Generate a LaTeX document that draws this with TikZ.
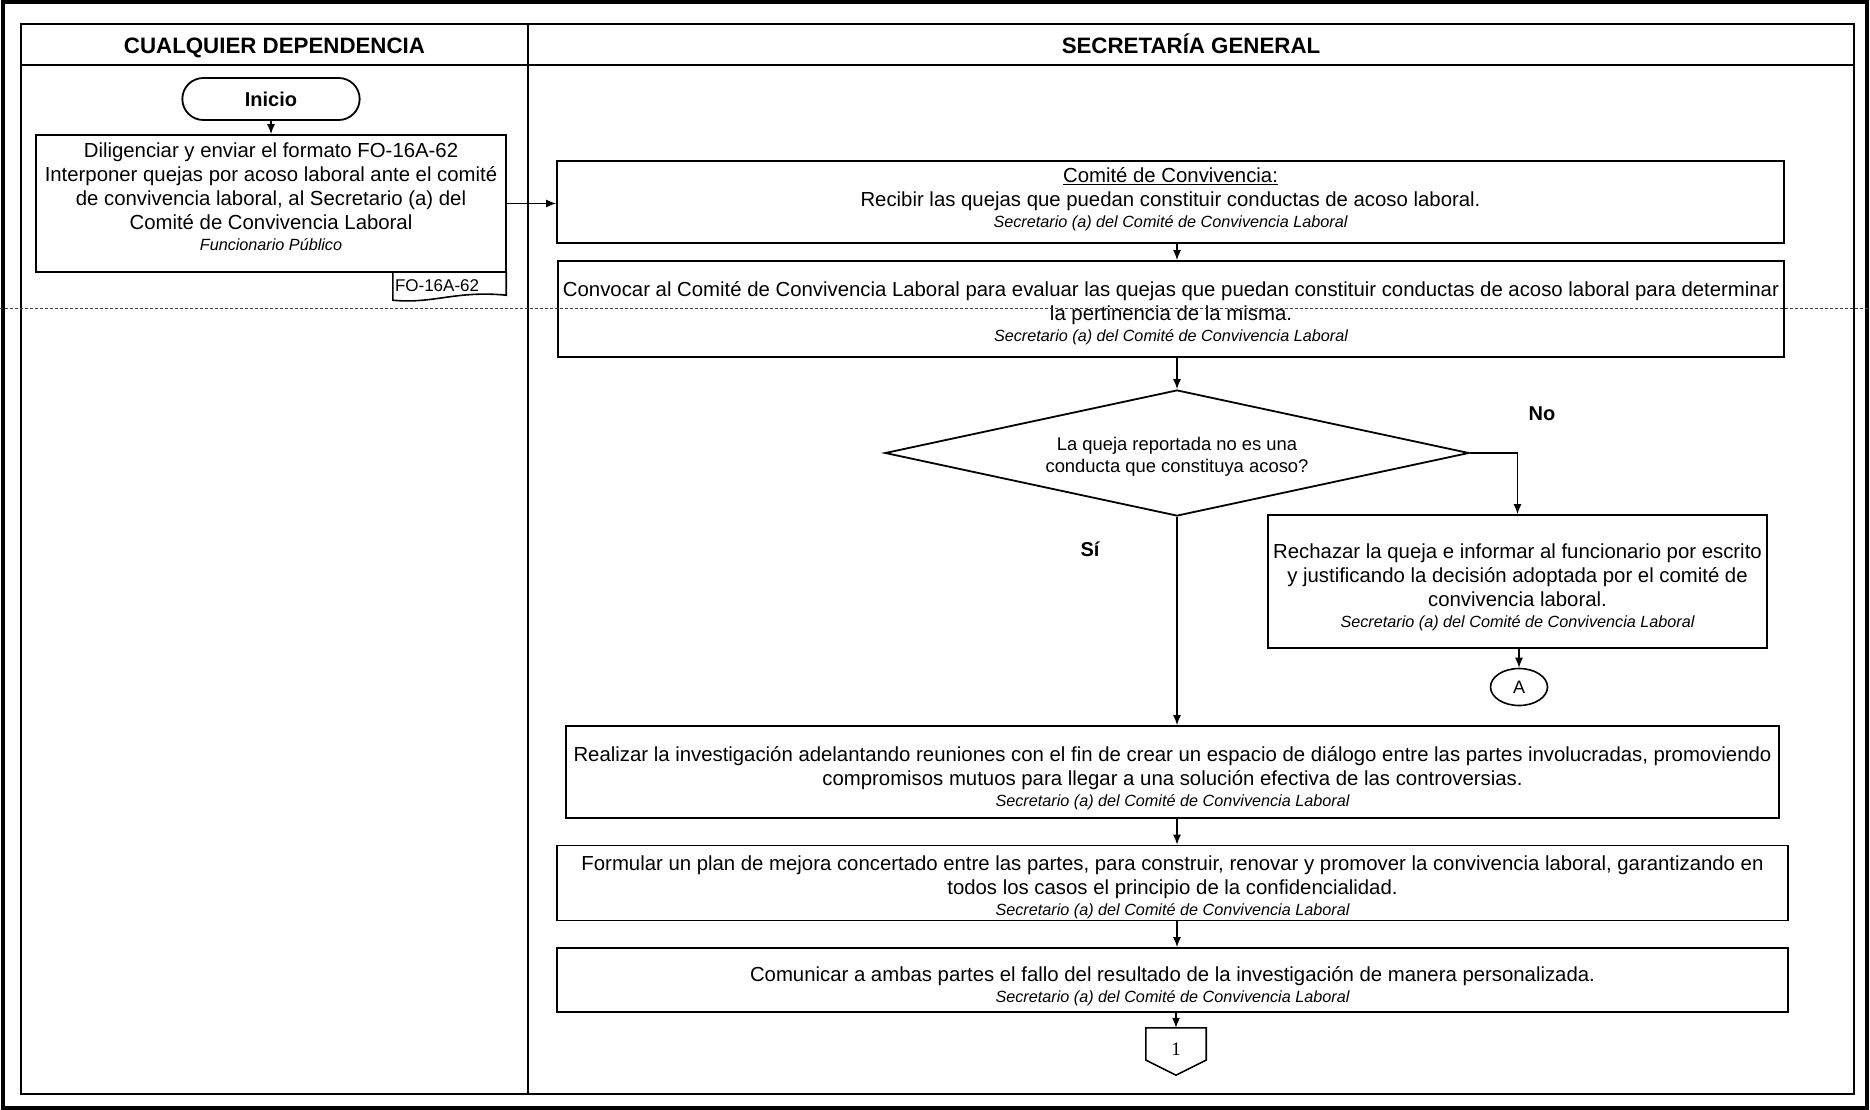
\documentclass[tikz,border=0pt]{standalone}
\usepackage{fontspec}
\setmainfont{Liberation Sans}
\newfontfamily\serifnum{Liberation Serif}
\usetikzlibrary{shapes.geometric,shapes.misc,arrows.meta,calc}
\newcommand\respons[1]{{\fontsize{16.2}{18}\selectfont\itshape #1}}
% struts that move a node's text block: \dn raises the first line's height, \up deepens the last line
\newcommand\dn[1]{\rule{0pt}{#1}}
\newcommand\up[1]{\rule[-#1]{0pt}{#1}}
\begin{document}
\begin{tikzpicture}[x=1pt,y=-1pt,
  frameline/.style={line width=2.4pt},
  box/.style={draw, line width=1.8pt, align=center, inner sep=2pt, font=\fontsize{20.35}{24}\selectfont},
  lbl/.style={font=\fontsize{20}{24}\selectfont\bfseries},
  hdr/.style={font=\fontsize{22.3}{26}\selectfont\bfseries, text height=16pt, text depth=4pt},
  arr/.style={line width=1.3pt, -{Latex[length=10pt,width=8pt]}}]
\useasboundingbox (0,0) rectangle (1870,1110);
% frames
\draw[line width=3.5pt] (3,2) rectangle (1867,1108);
\draw[frameline] (21,24) rectangle (1854,1094);
\draw[frameline] (21,65) -- (1854,65);
\draw[frameline] (528,24) -- (528,1094);
\node[hdr] (h1) at (274.5,47.5) {CUALQUIER DEPENDENCIA};
\node[hdr] (h2) at (1191,47.5) {SECRETARÍA GENERAL};
% left lane
\node[draw, line width=1.8pt, rounded rectangle, minimum width=184pt, minimum height=42pt, font=\fontsize{20}{24}\selectfont\bfseries] (ini) at (271,99) {Inicio};
\node[box, minimum width=470pt, minimum height=137pt] (b1) at (271,203.5)
  {Diligenciar y enviar el formato FO-16A-62\\
   Interponer quejas por acoso laboral ante el comité\\
   de convivencia laboral, al Secretario (a) del\\
   Comité de Convivencia Laboral\\[-3pt]
   \respons{Funcionario Público}\up{13pt}};
\node[inner xsep=2pt, inner ysep=0pt, text width=109pt, align=left, minimum height=28pt, font=\fontsize{17}{19}\selectfont] (fo) at (449.5,286) {FO-16A-62};
\draw[line width=1.6pt] (fo.north west) -- (fo.south west)
  .. controls ($(fo.south west)+(40,4)$) and ($(fo.south east)+(-50,-10)$) .. ($(fo.south east)+(0,-5)$)
  -- (fo.north east);
% right lane
\node[box, minimum width=1227pt, minimum height=82pt] (b2) at (1170.5,202)
  {\underline{Comité de Convivencia:}\\
   Recibir las quejas que puedan constituir conductas de acoso laboral.\\[-3pt]
   \respons{Secretario (a) del Comité de Convivencia Laboral}\up{9.5pt}};
\node[box, minimum width=1226pt, minimum height=96pt] (b3) at (1171,309)
  {\dn{23pt}Convocar al Comité de Convivencia Laboral para evaluar las quejas que puedan constituir conductas de acoso laboral para determinar\\
   la pertinencia de la misma.\\[-3pt]
   \respons{Secretario (a) del Comité de Convivencia Laboral}};
\node[draw, diamond, line width=1.8pt, aspect=4.6, inner sep=0pt, minimum width=584pt, minimum height=126pt, align=center, font=\fontsize{18.4}{21.5}\selectfont] (d) at (1177,453)
  {\dn{21pt}La queja reportada no es una\\conducta que constituya acoso?};
\node[box, minimum width=499pt, minimum height=133pt] (b4) at (1517.5,581.5)
  {\dn{27pt}Rechazar la queja e informar al funcionario por escrito\\
   y justificando la decisión adoptada por el comité de\\
   convivencia laboral.\\[-3pt]
   \respons{Secretario (a) del Comité de Convivencia Laboral}};
\node[draw, ellipse, line width=1.6pt, minimum width=57pt, minimum height=37pt, inner sep=0pt, font=\fontsize{18}{21}\selectfont] (A) at (1519,687) {A};
\node[box, minimum width=1213pt, minimum height=92pt] (b5) at (1172.5,772)
  {\dn{26.5pt}Realizar la investigación adelantando reuniones con el fin de crear un espacio de diálogo entre las partes involucradas, promoviendo\\
   compromisos mutuos para llegar a una solución efectiva de las controversias.\\[-3pt]
   \respons{Secretario (a) del Comité de Convivencia Laboral}};
\node[box, minimum width=1231pt, minimum height=72pt] (b6) at (1172.5,883)
  {\dn{22.5pt}Formular un plan de mejora concertado entre las partes, para construir, renovar y promover la convivencia laboral, garantizando en\\
   todos los casos el principio de la confidencialidad.\\[-3pt]
   \respons{Secretario (a) del Comité de Convivencia Laboral}};
\node[box, minimum width=1231pt, minimum height=64pt] (b7) at (1172.5,980)
  {\dn{27pt}Comunicar a ambas partes el fallo del resultado de la investigación de manera personalizada.\\[-3pt]
   \respons{Secretario (a) del Comité de Convivencia Laboral}};
\node[inner sep=0pt, minimum width=60pt, minimum height=47pt, font=\fontsize{19}{21}\serifnum] (p1) at (1176,1051.5) {\raisebox{4pt}{1}};
\draw[line width=1.6pt] (p1.north west) -- (p1.north east)
  -- ($(p1.south east)!0.32!(p1.north east)$) -- (p1.south)
  -- ($(p1.south west)!0.32!(p1.north west)$) -- cycle;
% labels
\node[lbl] (no) at (1542,414) {No};
\node[lbl] (si) at (1090,549) {Sí};
% connectors
\draw[arr] (ini.south) -- (b1.north);
\draw[arr] (b1.east) -- (b1.east -| b2.west);
\draw[arr] (b2.south -| d.north) -- (b3.north -| d.north);
\draw[arr] (b3.south -| d.north) -- (d.north);
\draw[arr] (d.east) -| (b4.north);
\draw[arr] (b4.south -| A.north) -- (A.north);
\draw[arr] (d.south) -- (b5.north -| d.south);
\draw[arr] (b5.south -| d.south) -- (b6.north -| d.south);
\draw[arr] (b6.south -| d.south) -- (b7.north -| d.south);
\draw[arr] (b7.south -| p1.north) -- (p1.north);
% scan page-break line
\draw[line width=0.8pt, dash pattern=on 3pt off 2pt, black!75] (0,308) -- (1870,308);
\end{tikzpicture}
\end{document}
